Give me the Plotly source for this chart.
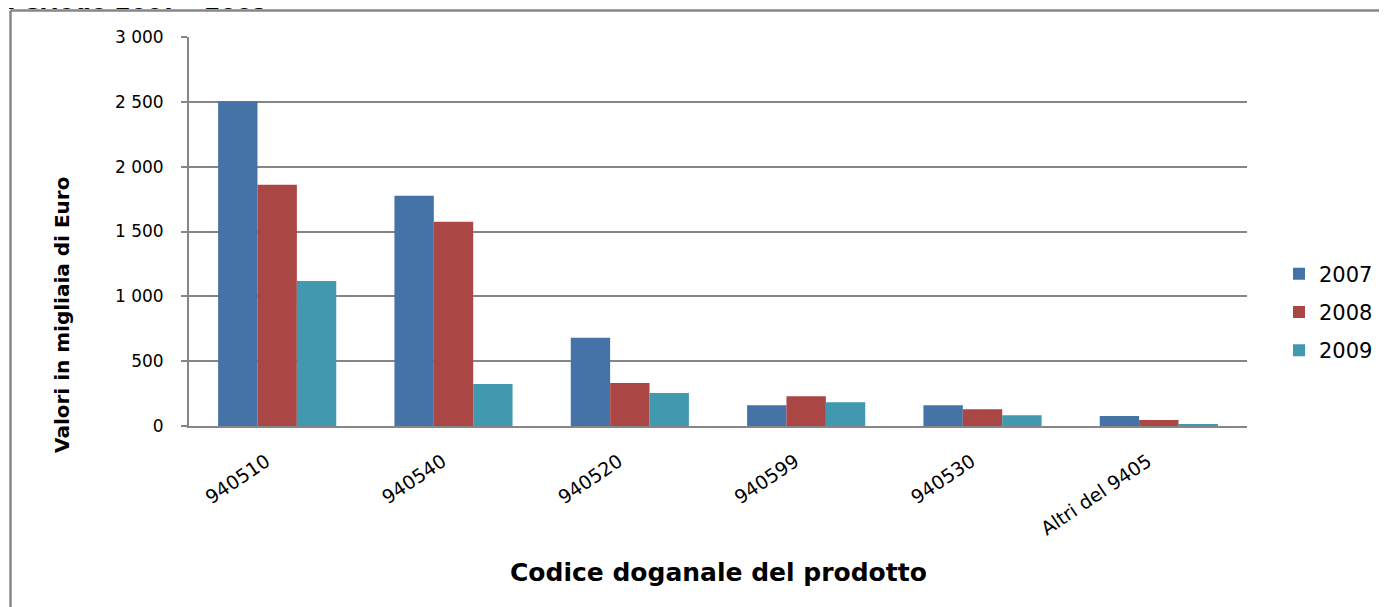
import plotly.graph_objects as go

categories = ["940510", "940540", "940520", "940599", "940530", "Altri del 9405"]
years = ["2007", "2008", "2009"]
values_2007 = [2505, 1775, 680, 160, 160, 77]
values_2008 = [1860, 1575, 332, 229, 129, 46]
values_2009 = [1119, 324, 255, 183, 83, 14]
colors = ["#4572A7", "#AA4643", "#4198AF"]
y_tickvals = [0, 500, 1000, 1500, 2000, 2500, 3000]
y_ticktext = ["0", "500", "1 000", "1 500", "2 000", "2 500", "3 000"]

# the page body adds an 8px offset; work in page pixels and convert
OFF = 8
PW, PH = 1387, 607
W, H = PW - OFF, PH - OFF
PLOT_L, PLOT_R, PLOT_T, PLOT_B = 189, 1247, 37, 426   # page pixels
L, T = PLOT_L - OFF, PLOT_T - OFF
R, B = W - (PLOT_R - OFF), H - (PLOT_B - OFF)
pw, ph = PLOT_R - PLOT_L, PLOT_B - PLOT_T

def px_x(px):
    return (px - PLOT_L) / pw

def px_y(py):
    return (PLOT_B - py) / ph

FONT = "DejaVu Sans"
GRAY = "#868686"

fig = go.Figure()
for name, vals, col in zip(years, [values_2007, values_2008, values_2009], colors):
    fig.add_trace(go.Bar(x=categories, y=vals, name=name, marker=dict(color=col, line=dict(width=0)),
                         legendgroup=name))

fig.update_layout(
    width=W, height=H,
    margin=dict(l=L, r=R, t=T, b=B, autoexpand=False),
    paper_bgcolor="white", plot_bgcolor="white",
    barmode="group", bargap=0.33, bargroupgap=0,
    font=dict(family=FONT, color="black"),
    showlegend=True,
    legend=dict(x=px_x(1279), y=px_y(312), xanchor="left", yanchor="middle",
                font=dict(family=FONT, size=21, color="black"),
                tracegroupgap=8, bgcolor="rgba(0,0,0,0)"),
    xaxis=dict(showgrid=False, showline=True, linecolor=GRAY, linewidth=2,
               ticks="", tickangle=-34, ticklabelstandoff=15, ticklabelshift=-11,
               tickfont=dict(family=FONT, size=19, color="black"),
               zeroline=False),
    yaxis=dict(range=[0, 3000], tickvals=y_tickvals, ticktext=y_ticktext,
               showgrid=True, gridcolor=GRAY, gridwidth=1.5,
               showline=True, linecolor=GRAY, linewidth=2,
               ticks="outside", ticklen=6, tickcolor=GRAY, tickwidth=1.5,
               ticklabelstandoff=14,
               tickfont=dict(family=FONT, size=17, color="black"), zeroline=False),
    annotations=[
        dict(text="<b>Codice doganale del prodotto</b>", xref="paper", yref="paper",
             x=px_x(718), y=px_y(572), xanchor="center", yanchor="middle", showarrow=False,
             font=dict(family=FONT, size=25, color="black")),
        dict(text="<b>Valori in migliaia di Euro</b>", xref="paper", yref="paper",
             x=px_x(62), y=px_y(315), xanchor="center", yanchor="middle", textangle=-90,
             showarrow=False, font=dict(family=FONT, size=20, color="black")),
        dict(text="<b>Periodo 2007 - 2009</b>", xref="paper", yref="paper",
             x=px_x(5), y=px_y(1), xanchor="left", yanchor="middle",
             showarrow=False, font=dict(family=FONT, size=23, color="black")),
    ],
    shapes=[
        dict(type="line", xref="paper", yref="paper", x0=px_x(10.5), x1=px_x(PW + 5),
             y0=px_y(10.5), y1=px_y(10.5), line=dict(color=GRAY, width=2.5)),
        dict(type="line", xref="paper", yref="paper", x0=px_x(10.5), x1=px_x(10.5),
             y0=px_y(10.5), y1=px_y(PH + 5), line=dict(color=GRAY, width=2.5)),
    ],
)

fig.write_html("out.html")
